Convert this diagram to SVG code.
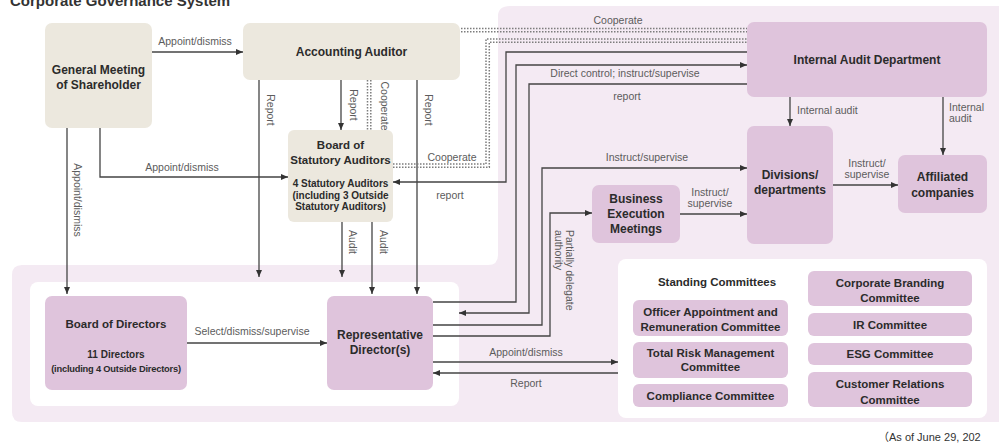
<svg xmlns="http://www.w3.org/2000/svg" width="999" height="443" viewBox="0 0 999 443">
  <defs>
    <style>
      .ln { fill: none; stroke: #444; stroke-width: 1.3; }
      .arr { marker-end: url(#ah); }
      .dot { fill: none; stroke: #7c7c7c; stroke-width: 1.5; stroke-dasharray: 1.5 1.5; }
      .beige { fill: #ece8de; }
      .pink { fill: #dfc4dc; }
      .nt { font-family: "Liberation Sans", Arial, sans-serif; font-weight: bold; font-size: 12px; fill: #2b2b2b; text-anchor: middle; }
      .sm { font-size: 10px; }
      .xs { font-size: 9.3px; letter-spacing: -0.2px; }
      .cm { font-size: 11.5px; }
      .lbl { font-family: "Liberation Sans", Arial, sans-serif; font-size: 10.5px; fill: #5c5c5c; }
      .mid { text-anchor: middle; }
    </style>
    <marker id="ah" viewBox="0 0 8 8" refX="8" refY="4" markerWidth="8" markerHeight="7" markerUnits="userSpaceOnUse" orient="auto">
      <path d="M0,0.6 L8,4 L0,7.4 Z" fill="#333"/>
    </marker>
  </defs>

  <!-- page background -->
  <rect x="0" y="0" width="999" height="443" fill="#ffffff"/>

  <!-- executive area (lavender band wrapping the right column and the bottom row) -->
  <path d="M510,6 H1005 V422 H22 Q12,422 12,412 V275 Q12,265 22,265 H488 Q498,265 498,255 V16 Q498,6 510,6 Z" fill="#f4eaf3"/>
  <rect x="30" y="282" width="429" height="124" rx="8" fill="#ffffff"/>
  <rect x="618" y="259" width="369" height="159" rx="8" fill="#ffffff"/>

  <!-- title and date -->
  <text x="10" y="6" font-family="Liberation Sans, Arial, sans-serif" font-weight="bold" font-size="15" fill="#333">Corporate Governance System</text>
  <text x="878" y="441" font-family="Liberation Sans, 'Noto Sans CJK JP', sans-serif" font-size="11" fill="#333">（As of June 29, 202</text>

  <!-- connectors -->
  <g id="connectors">
    <!-- solid arrows -->
    <path class="ln arr" d="M152,52 H243"/>
    <path class="ln arr" d="M67,128 V294"/>
    <path class="ln arr" d="M100,128 V177 H288"/>
    <path class="ln arr" d="M259,80 V277"/>
    <path class="ln arr" d="M341,80 V130"/>
    <path class="ln arr" d="M417,80 V294"/>
    <path class="ln arr" d="M342,222 V277"/>
    <path class="ln arr" d="M372,222 V294"/>
    <path class="ln arr" d="M187,343 H327"/>
    <path class="ln arr" d="M747,52 H506 V182 H393"/>
    <path class="ln arr" d="M433,302 H516 V65 H747"/>
    <path class="ln arr" d="M747,84 H529 V313 H459"/>
    <path class="ln arr" d="M433,325 H542 V168 H747"/>
    <path class="ln arr" d="M433,336 H550 V213 H592"/>
    <path class="ln arr" d="M433,362 H618"/>
    <path class="ln arr" d="M618,373 H433"/>
    <path class="ln arr" d="M680,214 H747"/>
    <path class="ln arr" d="M833,185 H898"/>
    <path class="ln arr" d="M790,97 V126"/>
    <path class="ln arr" d="M943,97 V155"/>

    <!-- cooperation links (double dotted) -->
    <path class="dot" d="M461,28.5 H747"/>
    <path class="dot" d="M461,31.8 H747"/>
    <path class="dot" d="M393,164 H486 V39 H747"/>
    <path class="dot" d="M393,167.3 H489.3 V42.3 H747"/>
    <path class="dot" d="M367.5,80 V130"/>
    <path class="dot" d="M370.8,80 V130"/>

    <!-- connector labels -->
    <text class="lbl mid" x="195" y="45">Appoint/dismiss</text>
    <text class="lbl mid" x="182" y="171">Appoint/dismiss</text>
    <text class="lbl mid" transform="translate(74,200) rotate(90)">Appoint/dismiss</text>
    <text class="lbl mid" transform="translate(267,110) rotate(90)">Report</text>
    <text class="lbl mid" transform="translate(350,105) rotate(90)">Report</text>
    <text class="lbl mid" transform="translate(381,106) rotate(90)">Cooperate</text>
    <text class="lbl mid" transform="translate(425,110) rotate(90)">Report</text>
    <text class="lbl mid" transform="translate(349,242) rotate(90)">Audit</text>
    <text class="lbl mid" transform="translate(380,242) rotate(90)">Audit</text>
    <text class="lbl mid" x="252" y="334.5">Select/dismiss/supervise</text>
    <text class="lbl mid" x="618" y="23.5">Cooperate</text>
    <text class="lbl mid" x="452" y="160.5">Cooperate</text>
    <text class="lbl mid" x="450" y="198.5">report</text>
    <text class="lbl mid" x="625" y="76.5">Direct control; instruct/supervise</text>
    <text class="lbl mid" x="627" y="99.5">report</text>
    <text class="lbl mid" x="647" y="160.5">Instruct/supervise</text>
    <text class="lbl mid" x="710" y="195.5">Instruct/</text>
    <text class="lbl mid" x="710" y="206.5">supervise</text>
    <text class="lbl mid" x="867" y="166.5">Instruct/</text>
    <text class="lbl mid" x="867" y="177.5">supervise</text>
    <text class="lbl" x="797" y="113.5">Internal audit</text>
    <text class="lbl" x="949" y="111">Internal</text>
    <text class="lbl" x="949" y="122">audit</text>
    <text class="lbl" transform="translate(566,230) rotate(90)">Partially delegate</text>
    <text class="lbl" transform="translate(554.5,230) rotate(90)">authority</text>
    <text class="lbl mid" x="526" y="355.5">Appoint/dismiss</text>
    <text class="lbl mid" x="526" y="386.5">Report</text>
  </g>

  <!-- nodes -->
  <g id="general-meeting">
    <rect class="beige" x="45" y="23" width="107" height="105" rx="7"/>
    <text class="nt" x="98.5" y="74">General Meeting</text>
    <text class="nt" x="98.5" y="89">of Shareholder</text>
  </g>

  <g id="accounting-auditor">
    <rect class="beige" x="243" y="23" width="217" height="57" rx="7"/>
    <text class="nt" x="351.5" y="56">Accounting Auditor</text>
  </g>

  <g id="statutory-auditors">
    <rect class="beige" x="288" y="130" width="105" height="92" rx="6"/>
    <text class="nt cm" x="340.5" y="149">Board of</text>
    <text class="nt cm" x="340.5" y="164">Statutory Auditors</text>
    <text class="nt sm" x="340.5" y="186.5">4 Statutory Auditors</text>
    <text class="nt sm" x="340.5" y="198.5">(including 3 Outside</text>
    <text class="nt sm" x="340.5" y="209.5">Statutory Auditors)</text>
  </g>

  <g id="internal-audit">
    <rect class="pink" x="747" y="22" width="240" height="75" rx="7"/>
    <text class="nt" x="867" y="64">Internal Audit Department</text>
  </g>

  <g id="divisions">
    <rect class="pink" x="747" y="126" width="86" height="118" rx="7"/>
    <text class="nt" x="790" y="179">Divisions/</text>
    <text class="nt" x="790" y="194">departments</text>
  </g>

  <g id="affiliated">
    <rect class="pink" x="898" y="155" width="89" height="58" rx="7"/>
    <text class="nt" x="942.5" y="181">Affiliated</text>
    <text class="nt" x="942.5" y="197">companies</text>
  </g>

  <g id="business-execution">
    <rect class="pink" x="592" y="185" width="88" height="58" rx="7"/>
    <text class="nt" x="636" y="203">Business</text>
    <text class="nt" x="636" y="218">Execution</text>
    <text class="nt" x="636" y="233">Meetings</text>
  </g>

  <g id="board-of-directors">
    <rect class="pink" x="45" y="296" width="142" height="94" rx="7"/>
    <text class="nt cm" x="116" y="328">Board of Directors</text>
    <text class="nt sm" x="116" y="357.5">11 Directors</text>
    <text class="nt xs" x="116" y="371.5">(including 4 Outside Directors)</text>
  </g>

  <g id="representative-director">
    <rect class="pink" x="327" y="296" width="106" height="94" rx="7"/>
    <text class="nt" x="380" y="339">Representative</text>
    <text class="nt" x="380" y="354">Director(s)</text>
  </g>

  <g id="standing-committees">
    <text class="nt cm" x="717" y="286">Standing Committees</text>
    <g id="officer-appointment">
      <rect class="pink" x="633" y="300" width="155" height="36" rx="6"/>
      <text class="nt cm" x="710.5" y="316">Officer Appointment and</text>
      <text class="nt cm" x="710.5" y="331">Remuneration Committee</text>
    </g>
    <g id="total-risk">
      <rect class="pink" x="633" y="342" width="155" height="36" rx="6"/>
      <text class="nt cm" x="710.5" y="357">Total Risk Management</text>
      <text class="nt cm" x="710.5" y="371">Committee</text>
    </g>
    <g id="compliance">
      <rect class="pink" x="633" y="384" width="155" height="23" rx="6"/>
      <text class="nt cm" x="710.5" y="400">Compliance Committee</text>
    </g>
    <g id="corporate-branding">
      <rect class="pink" x="808" y="271" width="164" height="35" rx="6"/>
      <text class="nt cm" x="890" y="287">Corporate Branding</text>
      <text class="nt cm" x="890" y="302">Committee</text>
    </g>
    <g id="ir">
      <rect class="pink" x="808" y="313" width="164" height="23" rx="6"/>
      <text class="nt cm" x="890" y="329">IR Committee</text>
    </g>
    <g id="esg">
      <rect class="pink" x="808" y="343" width="164" height="22" rx="6"/>
      <text class="nt cm" x="890" y="358">ESG Committee</text>
    </g>
    <g id="customer-relations">
      <rect class="pink" x="808" y="372" width="164" height="35" rx="6"/>
      <text class="nt cm" x="890" y="388">Customer Relations</text>
      <text class="nt cm" x="890" y="404">Committee</text>
    </g>
  </g>
</svg>
